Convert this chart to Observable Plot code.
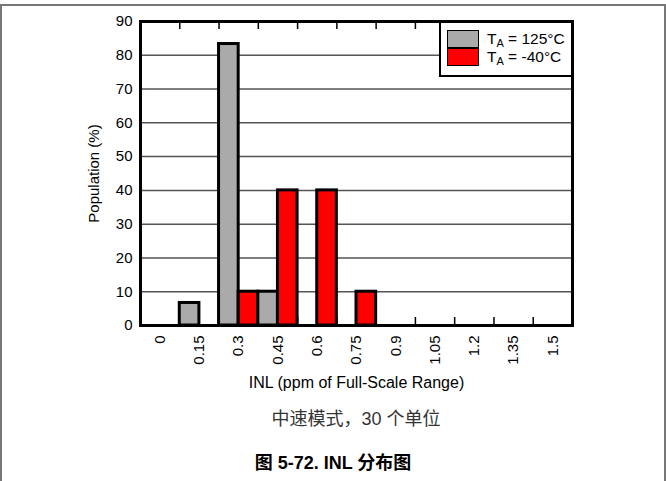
<!DOCTYPE html>
<html><head><meta charset="utf-8">
<script src="https://cdn.jsdelivr.net/npm/d3@7"></script>
<script src="https://cdn.jsdelivr.net/npm/@observablehq/plot@0.6"></script>
<style>
body{margin:0;background:#fff;font-family:"Liberation Sans",Arial,sans-serif;}
#wrap{position:relative;width:666px;height:481px;overflow:hidden;background:#fff;}
#border{position:absolute;left:0;top:4px;width:666px;height:490px;box-sizing:border-box;border:2px solid #777;}
#chart{position:absolute;left:0;top:0;}
#legend{position:absolute;left:439px;top:21px;width:134px;height:56px;box-sizing:border-box;border:2px solid #000;background:#fff;}
.sw{position:absolute;left:6px;width:32px;height:18px;box-sizing:border-box;border:1.5px solid #000;}
.lt{position:absolute;left:46px;font-size:15.5px;line-height:18px;color:#000;white-space:nowrap;}
.lt sub{font-size:11px;vertical-align:-3px;line-height:0;}
#caption{position:absolute;left:140px;width:432px;top:404px;text-align:center;font-family:"Liberation Sans","Noto Sans CJK SC",sans-serif;font-size:18px;color:#333;}
#title{position:absolute;left:0;width:666px;top:448px;text-align:center;font-family:"Liberation Sans","Noto Sans CJK SC",sans-serif;font-size:18px;font-weight:bold;color:#000;}
</style>
</head><body>
<div id="wrap">
<div id="border"></div>
<div id="chart"></div>
<div id="legend"></div>
<div id="caption"></div>
<div id="title"></div>
</div>
<script>
const categories = [0, 0.15, 0.3, 0.45, 0.6, 0.75, 0.9, 1.05, 1.2, 1.35, 1.5];
const tickLabels = ["0", "0.15", "0.3", "0.45", "0.6", "0.75", "0.9", "1.05", "1.2", "1.35", "1.5"];
const seriesNames = ["125°C", "-40°C"];
const seriesColors = ["#aaaaaa", "#ff0000"];
const hot = [0, 6.67, 83.33, 10, 0, 0, 0, 0, 0, 0, 0];
const cold = [0, 0, 10, 40, 40, 10, 0, 0, 0, 0, 0];
const yTicks = [0, 10, 20, 30, 40, 50, 60, 70, 80, 90];
const xLabel = "INL (ppm of Full-Scale Range)";
const yLabel = "Population (%)";
const captionText = "中速模式，30 个单位";
const titleText = "图 5-72. INL 分布图";

const step = categories[1] - categories[0];
const half = step / 2;
const rows = categories.flatMap((c, i) => [
  {lo: c - half, hi: c, v: hot[i], s: seriesNames[0]},
  {lo: c, hi: c + half, v: cold[i], s: seriesNames[1]}
]);
const bounds = categories.slice(0, -1).map(c => c + half);

const H = 400, MT = 21, MB = 75;
const frameH = H - MT - MB;
const tickLen = 8;

const plot = Plot.plot({
  width: 666, height: H,
  marginLeft: 140, marginRight: 94, marginTop: MT, marginBottom: MB,
  style: {fontFamily: '"Liberation Sans", Arial, sans-serif', fontSize: "15px", color: "#000", background: "transparent"},
  x: {type: "linear", domain: [categories[0] - half, categories[categories.length - 1] + half]},
  y: {domain: [yTicks[0], yTicks[yTicks.length - 1]]},
  color: {domain: seriesNames, range: seriesColors},
  marks: [
    Plot.ruleY(yTicks.slice(1, -1), {stroke: "#555", strokeWidth: 1.5}),
    Plot.ruleX(bounds, {stroke: "#000", strokeWidth: 1.5, insetBottom: frameH - tickLen}),
    Plot.ruleX(bounds, {stroke: "#000", strokeWidth: 1.5, insetTop: frameH - tickLen}),
    Plot.rectY(rows, {x1: "lo", x2: "hi", y1: 0, y2: "v", fill: "s", stroke: "#000", strokeWidth: 3}),
    Plot.frame({stroke: "#000", strokeWidth: 3}),
    Plot.axisY({ticks: yTicks, tickSize: 0, tickPadding: 8, label: yLabel, labelAnchor: "center", labelOffset: 52, labelArrow: "none"}),
    Plot.axisX({ticks: categories, tickSize: 0, tickPadding: 10, tickRotate: -90,
      tickFormat: d => tickLabels[categories.indexOf(d)], label: null}),
    Plot.text([xLabel], {frameAnchor: "bottom", dy: 62, fontSize: 16, fill: "#000"})
  ]
});
document.getElementById("chart").appendChild(plot);

const legend = document.getElementById("legend");
seriesNames.forEach((name, i) => {
  const sw = document.createElement("div");
  sw.className = "sw";
  sw.style.top = (7 + i * 18) + "px";
  sw.style.background = seriesColors[i];
  legend.appendChild(sw);
  const t = document.createElement("div");
  t.className = "lt";
  t.style.top = (7 + i * 18) + "px";
  t.innerHTML = "T<sub>A</sub> = " + name;
  legend.appendChild(t);
});
document.getElementById("caption").textContent = captionText;
document.getElementById("title").textContent = titleText;
</script>
</body></html>
